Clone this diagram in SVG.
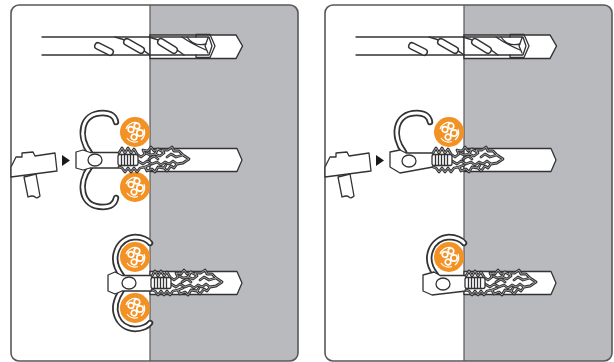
<svg xmlns="http://www.w3.org/2000/svg" width="614" height="362" viewBox="0 0 614 362">
<style>
.ln{fill:none;stroke:#333335;stroke-width:1.3;stroke-linejoin:round;stroke-linecap:round}
.wf{fill:#fff;stroke:#333335;stroke-width:1.3;stroke-linejoin:round}
.bandO{fill:none;stroke:#333335;stroke-width:6.400;stroke-linecap:round}
.bandI{fill:none;stroke:#fff;stroke-width:2.800;stroke-linecap:round}
.legO{fill:none;stroke:#333335;stroke-width:2.800;stroke-linejoin:round;stroke-linecap:round}
.legI{fill:none;stroke:#fff;stroke-width:.5;stroke-linejoin:round;stroke-linecap:round}
.fO{fill:none;stroke:#333335;stroke-width:8;stroke-linecap:round}
.fI{fill:none;stroke:#fff;stroke-width:5;stroke-linecap:round}
.grey{fill:#b9babd}
.frame{fill:none;stroke:#58585a;stroke-width:1.600}
</style>
<defs>
<g id="cable">
<circle r="15" fill="#f39224"/>
<path d="M-9 -3A10 10 0 0 1 2 -9.500M9 -3A10 10 0 0 1 6 8M3 9.500A10 10 0 0 1 -8 6" fill="none" stroke="#fff" stroke-width="1.200"/>
<g fill="#f39224" stroke="#fff" stroke-width="1.700">
<circle cx="-4" cy="-2.500" r="2.800"/><circle cx="2" cy="-6" r="2.800"/><circle cx="5" cy="1" r="3.200"/><circle cx="-1" cy="5" r="2.800"/>
</g>
</g>
<g id="hammer">
<path class="wf" d="M24 177L28 197Q33 195 35 197T40 196L36 174Z"/>
<path class="wf" d="M11 177L57 171L55 153L35 156L33 152L22 153L22 157L16 157L11 167Z"/>
<path d="M62 155L70 160.500L62 166Z" fill="#1a1a1a"/>
</g>
<g id="wall">
<path class="wf" d="M0 -11.500H87L92 0L87 11.500H0Z" stroke-width="1.500"/>
</g>
<path id="tangle" d="M0 -7L3 -12L6 -7L9 -12L12 -7L15 -11L18 -6L22 -3L26 -6L24 -10L29 -9L32 -13L35 -9L39 -11L36 -6L31 -5L27 -7M36 -6L41 -4L45 -7L43 -10L49 -10L53 -13L55 -9L60 -9L64 -5L70 -1L64 3L58 4L54 1L50 4L46 2L42 5L38 2L33 4L28 1L24 4L19 1L15 3M58 4L55 8L52 6L48 11L45 8L47 5M45 8L39 7L36 12L33 9L28 11L26 7L31 5M26 7L21 8L18 12L15 8L12 12L9 8L6 12L3 8L0 7M64 -5L57 -3L52 -6L48 -3M39 -11L44 -8M30 -1L35 -4L39 -1"/>
<g id="legs">
<use href="#tangle" class="legO"/>
<use href="#tangle" class="legI"/>
<rect x="-1" y="-5.500" width="20" height="11" rx="2" fill="#fff" stroke="#333335" stroke-width="1.300"/>
<path class="ln" d="M2.500 -5.500V5.500M5.500 -5.500V5.500M8.500 -5.500V5.500M11.500 -5.500V5.500M14.500 -5.500V5.500"/>
</g>
<g id="drill">
<path d="M150 35H236L242.500 46L236 58.500H150Z" fill="#fff" stroke="#333335" stroke-width="1.400"/>
<path class="ln" d="M42 37H196M42 55H196"/>
<path class="ln" d="M196 34.500H210L215 46L210 57.500H196V55H209L212 46L209 37H196ZM208 38L205 46L208 53"/>
<path class="ln" d="M115 37Q132 41 150 55M149 37Q168 42 184 55M182 37Q192 44 206 50M187 37Q194 47 206 44"/>
<path class="fO" d="M98 46L110 52"/><path class="fI" d="M98 46L110 52"/>
<path class="fO" d="M127 42L141 50"/><path class="fI" d="M127 42L141 50"/>
<path class="fO" d="M161 42L174 50"/><path class="fI" d="M161 42L174 50"/>
</g>
</defs>

<g id="panel-left">
<path d="M150 5H290Q298 5 298 13V353Q298 361 290 361H150Z" class="grey"/>
<rect class="frame" x="11" y="5" width="287" height="356" rx="8"/>
<path d="M150 5V361" stroke="#58585a" stroke-width="1.200"/>
</g>
<g id="panel-right">
<path d="M464 5H604Q612 5 612 13V353Q612 361 604 361H464Z" class="grey"/>
<rect class="frame" x="325" y="5" width="287" height="356" rx="8"/>
<path d="M464 5V361" stroke="#58585a" stroke-width="1.200"/>
</g>

<g id="drill-left"><use href="#drill"/></g>
<g id="drill-right"><use href="#drill" x="314"/></g>

<g id="hammer-left"><use href="#hammer"/></g>
<g id="hammer-right"><use href="#hammer" x="314"/></g>

<g id="plug-open-double">
<use href="#wall" x="150" y="160"/>
<use href="#cable" x="135" y="132"/><use href="#cable" x="135" y="187"/>
<path class="bandO" d="M90 153C78 137 80 113 103 113C110 113 115 116 116 122"/><path class="bandI" d="M90 153C78 137 80 113 103 113C110 113 115 116 116 122"/>
<path class="bandO" d="M90 167C78 183 80 207 103 207C110 207 115 204 116 198"/><path class="bandI" d="M90 167C78 183 80 207 103 207C110 207 115 204 116 198"/>
<path class="wf" stroke-width="1.700" d="M76 152L83 150L90 152.500H119V168H90L83 170L76 168Z"/>
<ellipse class="wf" cx="95" cy="160" rx="7" ry="6" stroke-width="1.700"/>
<use href="#legs" x="119" y="160"/>
</g>

<g id="plug-closed-double">
<use href="#wall" x="150" y="283"/>
<use href="#cable" x="135" y="257"/><use href="#cable" x="135" y="308"/>
<path class="bandO" d="M122 276C108 258 118 238 135 237C142 237 148 240 150 243"/><path class="bandI" d="M122 276C108 258 118 238 135 237C142 237 148 240 150 243"/>
<path class="bandO" d="M122 290C108 310 118 328 135 329C142 329 148 326 150 323"/><path class="bandI" d="M122 290C108 310 118 328 135 329C142 329 148 326 150 323"/>
<path class="wf" stroke-width="1.700" d="M108 275L115 272L122 275.500H152V291H122L115 294L108 291Z"/>
<ellipse class="wf" cx="129" cy="283" rx="7" ry="6" stroke-width="1.700"/>
<use href="#legs" x="152" y="283"/>
</g>

<g id="plug-open-single">
<use href="#wall" x="464" y="160"/>
<use href="#cable" x="449" y="132"/>
<path class="bandO" d="M404 152C392 137 394 113 417 113C424 113 429 116 430 122"/><path class="bandI" d="M404 152C392 137 394 113 417 113C424 113 429 116 430 122"/>
<path class="wf" stroke-width="1.700" d="M390 152L400 150L406 153H433V167L400 173L390 167Z"/>
<ellipse class="wf" cx="409" cy="161" rx="7" ry="6" stroke-width="1.700"/>
<use href="#legs" x="433" y="160"/>
</g>

<g id="plug-closed-single">
<use href="#wall" x="464" y="283"/>
<use href="#cable" x="449" y="257"/>
<path class="bandO" d="M436 275C422 258 432 238 449 237C456 237 462 240 464 243"/><path class="bandI" d="M436 275C422 258 432 238 449 237C456 237 462 240 464 243"/>
<path class="wf" stroke-width="1.700" d="M423 275L434 272L440 275.500H466V291L432 295L423 291Z"/>
<ellipse class="wf" cx="443" cy="284" rx="7" ry="6" stroke-width="1.700"/>
<use href="#legs" x="466" y="283"/>
</g>
</svg>
